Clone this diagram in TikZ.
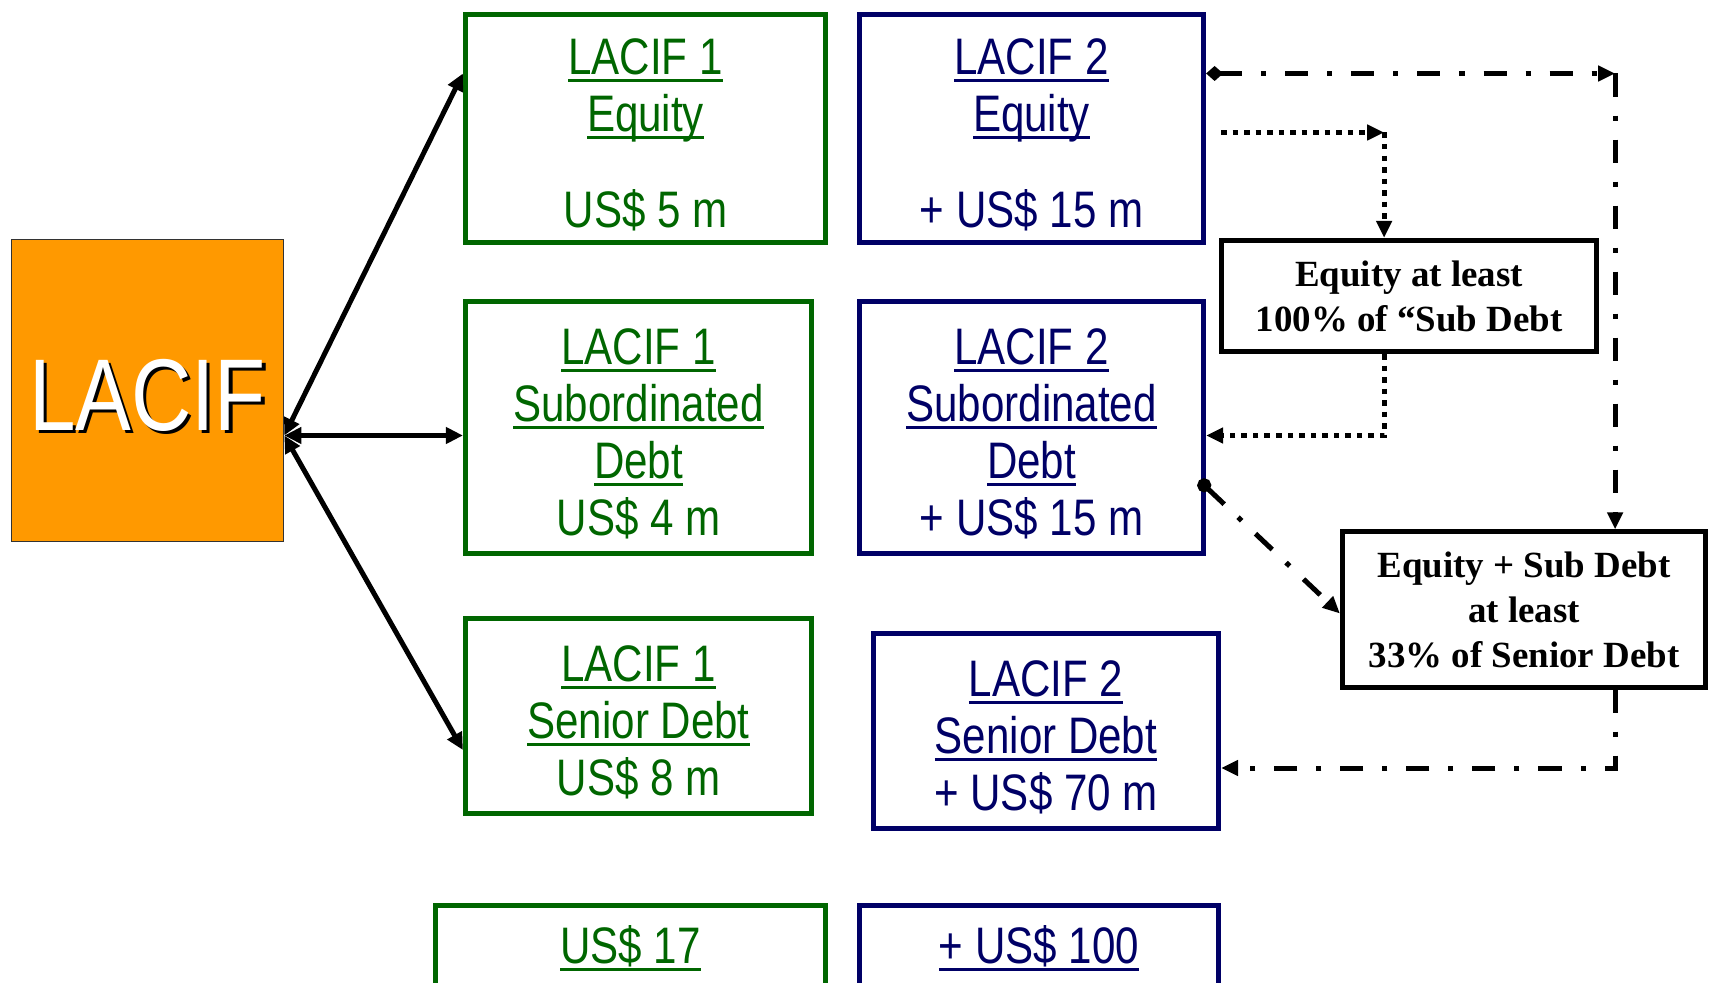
\documentclass[tikz,border=0pt]{standalone}
\usepackage{fontspec}
\usetikzlibrary{positioning, arrows.meta, calc}
\newfontfamily\narrowfont{Liberation Sans}[FakeStretch=0.82]
\newfontfamily\timesfont{Liberation Serif}
\definecolor{lacgreen}{HTML}{006600}
\definecolor{lacblue}{HTML}{000066}
\definecolor{lacorange}{HTML}{FF9900}
\newcommand{\ulin}[1]{\mbox{\setbox0\hbox{#1}\rlap{\copy0}\rule[-2.2pt]{\wd0}{0.9pt}}}
\newcommand{\shadowtxt}[1]{\mbox{\rlap{\kern0.9pt\raisebox{-0.9pt}{\color{black}#1}}#1}}
\newcommand{\topgap}{\rule{0pt}{13.6pt}}

\begin{document}
\begin{tikzpicture}[
      x=0.01cm, y=-0.01cm,
      every node/.style={inner sep=0pt, align=center},
      fund/.style={draw, line width=0.05cm,
                   font=\narrowfont\fontsize{14.6}{16.2}\selectfont},
      fundone/.style={fund, draw=lacgreen, text=lacgreen},
      fundtwo/.style={fund, draw=lacblue, text=lacblue},
      rulebox/.style={draw=black, line width=0.05cm,
                      font=\timesfont\bfseries\fontsize{10.5}{12.8}\selectfont},
      link/.style={line width=0.05cm,
                   {Triangle[length=0.17cm,width=0.16cm]}-{Triangle[length=0.17cm,width=0.16cm]}},
      dotline/.style={line width=0.05cm, dash pattern=on 0.055cm off 0.06cm},
      dashdotline/.style={line width=0.05cm,
                          dash pattern=on 0.23cm off 0.19cm on 0.05cm off 0.19cm},
      headend/.style={-{Triangle[length=0.17cm,width=0.15cm]}},
    ]
    \useasboundingbox (0,0) rectangle (1710,983);

    % the fund
    \node[draw=black!80, line width=0.015cm, fill=lacorange, text=white,
          minimum width=2.72cm, minimum height=3.02cm,
          font=\narrowfont\fontsize{29}{32}\selectfont] (lacif) at (147.5,390.5)
      {\rule{0pt}{23.9pt}\shadowtxt{LACIF}};

    % LACIF 1 column
    \node[fundone, minimum width=3.6cm, minimum height=2.28cm] (g1) at (645.5,128.5)
      {\topgap\ulin{LACIF 1}\\\ulin{Equity}\\[0.39cm]US\$ 5 m};
    \node[fundone, minimum width=3.46cm, minimum height=2.52cm] (g2) at (638.5,427.5)
      {\topgap\ulin{LACIF 1}\\\ulin{Subordinated}\\\ulin{Debt}\\US\$ 4 m};
    \node[fundone, minimum width=3.46cm, minimum height=1.95cm] (g3) at (638.5,716)
      {\topgap\ulin{LACIF 1}\\\ulin{Senior Debt}\\US\$ 8 m};
    \node[fundone, minimum width=3.9cm, minimum height=0.85cm] (gtot) at (630.5,948)
      {\ulin{US\$ 17}};

    % LACIF 2 column
    \node[fundtwo, minimum width=3.44cm, minimum height=2.28cm] (b1) at (1031.5,128.5)
      {\topgap\ulin{LACIF 2}\\\ulin{Equity}\\[0.39cm]+ US\$ 15 m};
    \node[fundtwo, minimum width=3.44cm, minimum height=2.52cm] (b2) at (1031.5,427.5)
      {\topgap\ulin{LACIF 2}\\\ulin{Subordinated}\\\ulin{Debt}\\+ US\$ 15 m};
    \node[fundtwo, minimum width=3.45cm, minimum height=1.95cm] (b3) at (1046,731)
      {\topgap\ulin{LACIF 2}\\\ulin{Senior Debt}\\+ US\$ 70 m};
    \node[fundtwo, minimum width=3.59cm, minimum height=0.85cm] (btot) at (1039,948)
      {\ulin{+ US\$ 100}};

    % covenants
    \node[rulebox, minimum width=3.75cm, minimum height=1.11cm] (eqa) at (1409,296)
      {Equity at least\\100\% of “Sub Debt};
    \node[rulebox, minimum width=3.63cm, minimum height=1.55cm] (eqsd) at (1524,609.5)
      {Equity + Sub Debt\\at least\\33\% of Senior Debt};

    % LACIF to LACIF 1
    \coordinate (hub) at ($(lacif.east)+(0,45)$);
    \draw[link] (hub) -- ($(g1.west)+(0,-55)$);
    \draw[link] (hub) -- (g2.west |- hub);
    \draw[link] (hub) -- ($(g3.west)+(0,34)$);

    % equity vs sub debt
    \coordinate (dotcorner) at ($(b1.east)+(178,4)$);
    \draw[dotline, headend] ($(b1.east)+(15,4)$) -- (dotcorner);
    \draw[dotline, headend] (dotcorner) -- (dotcorner |- eqa.north);
    \draw[dotline, headend] (dotcorner |- eqa.south) |- ($(b2.east)+(0,8)$);

    % equity + sub debt vs senior debt
    \coordinate (ddcorner) at ($(b1.east)+(409,-55)$);
    \draw[dashdotline, {Diamond[length=0.17cm,width=0.15cm]}-{Triangle[length=0.17cm,width=0.15cm]}]
      ($(b1.east)+(0,-55)$) -- (ddcorner);
    \draw[dashdotline, headend] (ddcorner) -- (ddcorner |- eqsd.north);
    \draw[dashdotline, {Circle[length=0.14cm]}-{Triangle[length=0.17cm,width=0.15cm]}]
      ($(b2.east)+(-7,53)$) -- ($(eqsd.west)+(0,4)$);
    \draw[dashdotline, headend] (ddcorner |- eqsd.south) |- ($(b3.east)+(0,37)$);
  \end{tikzpicture}
\end{document}
